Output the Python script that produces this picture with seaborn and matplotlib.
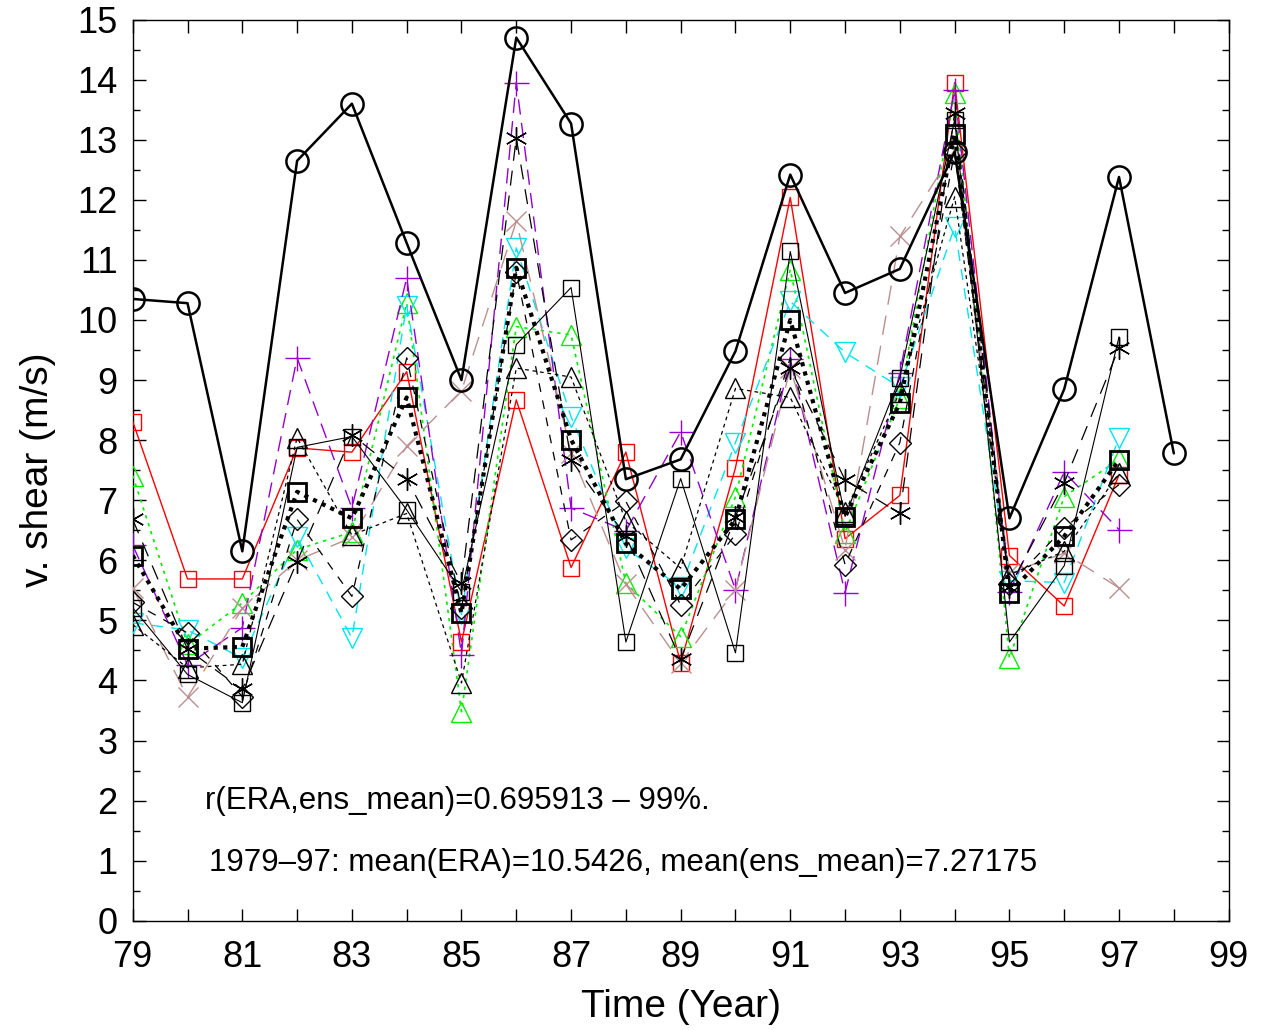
import numpy as np
import pandas as pd
import matplotlib
matplotlib.use("Agg")
import matplotlib.pyplot as plt
import seaborn as sns
from matplotlib.ticker import MultipleLocator

sns.set_style("ticks")
plt.rcParams['font.family'] = ['Liberation Sans', 'DejaVu Sans']
plt.rcParams['text.color'] = 'black'
plt.rcParams['axes.labelcolor'] = 'black'
plt.rcParams['xtick.color'] = 'black'
plt.rcParams['ytick.color'] = 'black'

years = list(range(1979, 1998))
years_era = list(range(1979, 1999))

era = [10.35, 10.28, 6.15, 12.65, 13.6, 11.28, 9.0, 14.7, 13.27, 7.35, 7.68,
       9.48, 12.42, 10.45, 10.85, 12.8, 6.7, 8.85, 12.38, 7.78]
ens_mean = [6.08, 4.53, 4.56, 7.14, 6.7, 8.71, 5.12, 10.87, 8.01, 6.28, 5.52,
            6.68, 10.0, 6.72, 8.62, 13.1, 5.46, 6.4, 7.67]

m_red = [8.31, 5.69, 5.69, 7.87, 7.8, 9.14, 4.64, 8.67, 5.88, 7.8, 4.29,
         7.54, 12.04, 6.36, 7.08, 13.95, 6.08, 5.24, 7.42]
m_green = [7.41, 4.6, 5.29, 6.18, 6.47, 10.28, 3.48, 9.89, 9.75, 5.62, 4.73,
           7.06, 10.84, 6.46, 8.7, 13.78, 4.37, 7.06, 7.68]
m_cyan = [4.96, 4.84, 4.37, 6.38, 4.71, 10.24, 5.1, 11.2, 8.39, 6.2, 5.55,
          7.96, 10.31, 9.46, 8.88, 11.55, 5.66, 5.63, 8.04]
m_purple = [6.25, 4.26, 4.88, 9.37, 6.87, 10.7, 4.43, 13.95, 6.87, 6.49, 8.14,
            5.51, 9.35, 5.46, 9.12, 13.82, 5.48, 7.47, 6.51]
m_brown = [5.54, 3.72, 5.2, 6.0, 6.38, 7.9, 8.82, 11.64, 7.79, 5.6, 4.29,
           5.51, 9.2, 6.18, 11.39, 12.83, 5.79, 6.12, 5.54]
m_star = [6.68, 4.52, 3.85, 5.98, 8.09, 7.36, 5.62, 13.03, 7.67, 6.4, 4.35,
          6.72, 9.2, 7.34, 6.78, 13.45, 5.55, 7.29, 9.54]
m_diamond = [5.3, 4.79, 3.73, 6.68, 5.4, 9.37, 5.2, 10.8, 6.34, 6.98, 5.26,
             6.43, 9.37, 5.93, 7.96, 12.8, 5.6, 6.54, 7.26]
m_tri = [4.93, 4.21, 4.27, 8.04, 6.42, 6.78, 3.96, 9.2, 9.05, 6.65, 5.87,
         8.86, 8.71, 6.8, 8.8, 12.05, 5.76, 6.15, 7.45]
m_sq = [5.21, 4.1, 3.63, 7.88, 8.06, 6.84, 5.48, 9.59, 10.54, 4.64, 7.36,
        4.46, 11.14, 6.73, 9.04, 13.33, 4.64, 5.91, 9.72]

x_ticks = list(range(79, 100, 2))
y_ticks = list(range(0, 16))

text1 = "r(ERA,ens_mean)=0.695913 \u2013 99%."
text2 = "1979\u201397: mean(ERA)=10.5426, mean(ens_mean)=7.27175"

fig = plt.figure(figsize=(12.64, 10.30), dpi=100)
ax = fig.add_axes([0.105, 0.106, 0.867, 0.875])

def yy(ys):
    return [y - 1900 for y in ys]

members = [
    (m_red, '#ff0000', 's', 12, '-', 1.0),
    (m_green, '#00ee00', '^', 14, (0, (2, 3)), 1.2),
    (m_cyan, '#00e5ee', 'v', 14, (0, (8, 6)), 1.0),
    (m_purple, '#9400d3', '+', 18, (0, (11, 6)), 1.0),
    (m_brown, '#bc8f8f', 'x', 14, (0, (14, 8)), 1.0),
    (m_star, 'black', (6, 2, 0), 16, (0, (12, 8)), 0.9),
    (m_diamond, 'black', 'D', 11, (0, (7, 7)), 0.9),
    (m_tri, 'black', '^', 14, (0, (3, 3)), 0.9),
    (m_sq, 'black', 's', 12, '-', 0.8),
]

for vals, col, mk, ms, ls, lw in members:
    sns.lineplot(x=yy(years), y=vals, ax=ax, color=col, marker=mk,
                 markersize=ms, markerfacecolor='none', markeredgecolor=col,
                 markeredgewidth=1.0, linestyle=ls, linewidth=lw, zorder=3)

sns.lineplot(x=yy(years), y=ens_mean, ax=ax, color='black', marker='s',
             markersize=13, markerfacecolor='none', markeredgecolor='black',
             markeredgewidth=2.0, linestyle=(0, (1, 1.3)), linewidth=3.0,
             zorder=5)
sns.lineplot(x=yy(years_era), y=era, ax=ax, color='black', marker='o',
             markersize=16, markerfacecolor='none', markeredgecolor='black',
             markeredgewidth=1.8, linestyle='-', linewidth=1.8, zorder=6)

ax.set_xlim(79, 99)
ax.set_ylim(0, 15)
ax.set_xticks(x_ticks)
ax.set_xticklabels([str(t) for t in x_ticks])
ax.xaxis.set_minor_locator(MultipleLocator(1))
ax.set_yticks(y_ticks)
ax.set_yticklabels([str(t) for t in y_ticks])
ax.yaxis.set_minor_locator(MultipleLocator(0.5))
ax.tick_params(which='both', direction='in', top=True, right=True,
               labelsize=26, width=1, color='black', labelcolor='black')
ax.tick_params(axis='x', which='both', length=9, pad=14)
ax.tick_params(axis='y', which='major', length=9, pad=11)
ax.tick_params(axis='y', which='minor', length=5)
for s in ax.spines.values():
    s.set_visible(True)
    s.set_linewidth(1.0)
    s.set_color('black')

ax.set_xlabel("Time (Year)", fontsize=28, labelpad=10, color='black')
ax.set_ylabel("v. shear (m/s)", fontsize=28, labelpad=15, color='black')

ax.text(80.31, 2.0, text1, fontsize=22.5, va='center', ha='left', color='black')
ax.text(80.4, 0.97, text2, fontsize=22.5, va='center', ha='left', color='black')

fig.savefig("out.png", dpi=100)
